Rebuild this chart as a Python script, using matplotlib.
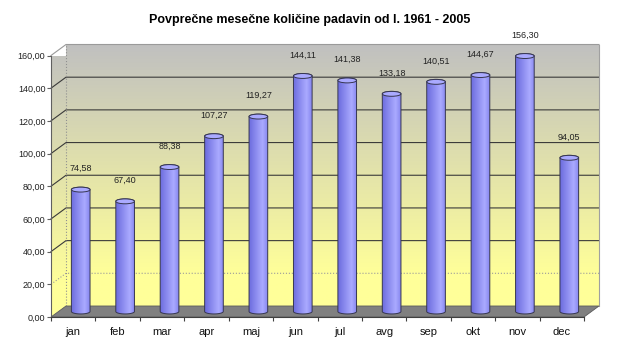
import matplotlib
matplotlib.use('Agg')
import matplotlib.pyplot as plt
import numpy as np
from matplotlib.patches import Polygon, Ellipse
from matplotlib.ticker import FuncFormatter, FixedLocator

months = ['jan', 'feb', 'mar', 'apr', 'maj', 'jun', 'jul', 'avg', 'sep', 'okt', 'nov', 'dec']
padavine = [74.58, 67.40, 88.38, 107.27, 119.27, 144.11, 141.38, 133.18, 140.51, 144.67, 156.30, 94.05]
yticks = [0, 20, 40, 60, 80, 100, 120, 140, 160]

plt.rcParams['font.family'] = ['Liberation Sans', 'DejaVu Sans']

W, H = 620, 348
fig = plt.figure(figsize=(W / 100, H / 100), dpi=100)
fig.patch.set_facecolor('white')
ax = fig.add_axes([51 / W, 1 - 317 / H, (584 - 51) / W, (317 - 55.5) / H])
ax.set_xlim(0, 12)
ax.set_ylim(0, 160)
ax.patch.set_visible(False)

n = len(months)
# globina 3D (v enotah podatkov)
dx = 15 / (533 / 12)
dy = 11 / (261.5 / 160)

# gradient ozadja: siva zgoraj -> rumena spodaj
t = np.linspace(0, 1, 200)
gray = np.array([192, 192, 192]) / 255
yellow = np.array([255, 255, 153]) / 255
k = np.clip((t - 0.12) / 0.88, 0, 1)[:, None]
grad = (yellow * (1 - k) + gray * k)[:, None, :]

ax.imshow(grad, extent=[dx, n + dx, dy, 160 + dy], origin='lower', aspect='auto',
          zorder=0, clip_on=False, interpolation='bilinear')
side = Polygon([(0, 0), (dx, dy), (dx, 160 + dy), (0, 160)], closed=True,
               facecolor='none', edgecolor='none', transform=ax.transData)
ax.add_patch(side)
im = ax.imshow(grad, extent=[0, dx, 0, 160 + dy], origin='lower', aspect='auto',
               zorder=0, interpolation='bilinear')
im.set_clip_path(side)

# mreza
for v in yticks[1:]:
    col = '#9a9a9a' if v in (20, 160) else '#3a3a3a'
    ls = ':' if v == 20 else '-'
    ax.plot([0, dx, n + dx], [v, v + dy, v + dy], color=col, lw=0.8, ls=ls,
            clip_on=False, zorder=1)
ax.plot([dx, dx], [dy, 160 + dy], color='#909090', lw=0.8, ls=':', clip_on=False, zorder=1)
ax.plot([n + dx, n + dx], [dy, 160 + dy], color='#a0a0a0', lw=0.8, clip_on=False, zorder=1)

# tla
floor = Polygon([(0, 0), (n, 0), (n + dx, dy), (dx, dy)], closed=True,
                facecolor='#808080', edgecolor='#5a5a5a', lw=0.6, clip_on=False, zorder=2)
ax.add_patch(floor)

# valji
r = 0.21
e = 1.5
base = dy / 2
hx = np.linspace(0, 1, 64)[:, None]
lo = np.array([108, 108, 222]) / 255
hi = np.array([170, 170, 255]) / 255
ed = np.array([135, 135, 240]) / 255
pk = 0.72
left_part = lo + (hi - lo) * (hx / pk)
right_part = hi + (ed - hi) * ((hx - pk) / (1 - pk))
cyl = np.where(hx < pk, left_part, right_part)[None, :, :]

for i, v in enumerate(padavine):
    cx = i + 0.5 + dx / 2
    top = base + v
    tb = np.linspace(np.pi, 2 * np.pi, 30)
    tt = np.linspace(0, np.pi, 30)
    pts = [(cx - r, top)] + list(zip(cx + r * np.cos(tb), base + e * np.sin(tb))) + \
          list(zip(cx + r * np.cos(tt), top + e * np.sin(tt)))
    body = Polygon(pts, closed=True, facecolor='none', edgecolor='#363650', lw=0.7,
                   clip_on=False, zorder=4)
    ax.add_patch(body)
    bim = ax.imshow(cyl, extent=[cx - r, cx + r, base - e, top + e], aspect='auto',
                    zorder=3, interpolation='bilinear')
    bim.set_clip_path(body)
    ax.add_patch(Ellipse((cx, top), 2 * r, 2 * e, facecolor='#aaaaff', edgecolor='#363650',
                         lw=0.7, clip_on=False, zorder=5))
    ax.annotate(f'{v:.2f}'.replace('.', ','), (cx, top), xytext=(0, 15),
                textcoords='offset points', ha='center', va='center', fontsize=6.5,
                color='#222222', zorder=6)

# osi
for s in ['top', 'right']:
    ax.spines[s].set_visible(False)
ax.spines['left'].set_color('#606060')
ax.spines['bottom'].set_color('#404040')
ax.spines['left'].set_zorder(7)
ax.spines['bottom'].set_zorder(7)

ax.set_yticks(yticks)
ax.yaxis.set_major_formatter(FuncFormatter(lambda v, p: f'{v:.2f}'.replace('.', ',')))
ax.tick_params(axis='y', direction='out', length=3, width=0.8, color='#606060',
               labelsize=6.5, pad=1, labelcolor='#222222')

ax.xaxis.set_major_locator(FixedLocator(range(n + 1)))
ax.xaxis.set_minor_locator(FixedLocator([i + 0.5 for i in range(n)]))
ax.set_xticklabels([], minor=False)
ax.set_xticklabels(months, minor=True)
ax.tick_params(axis='x', which='major', direction='out', length=3, width=0.8, color='#404040')
ax.tick_params(axis='x', which='minor', length=0, labelsize=8, pad=7, labelcolor='#111111')

fig.text(0.5, 1 - 20 / H, 'Povprečne mesečne količine padavin od l. 1961 - 2005',
         ha='center', va='center', fontsize=9, fontweight='bold')

fig.savefig('out.png', dpi=100)
